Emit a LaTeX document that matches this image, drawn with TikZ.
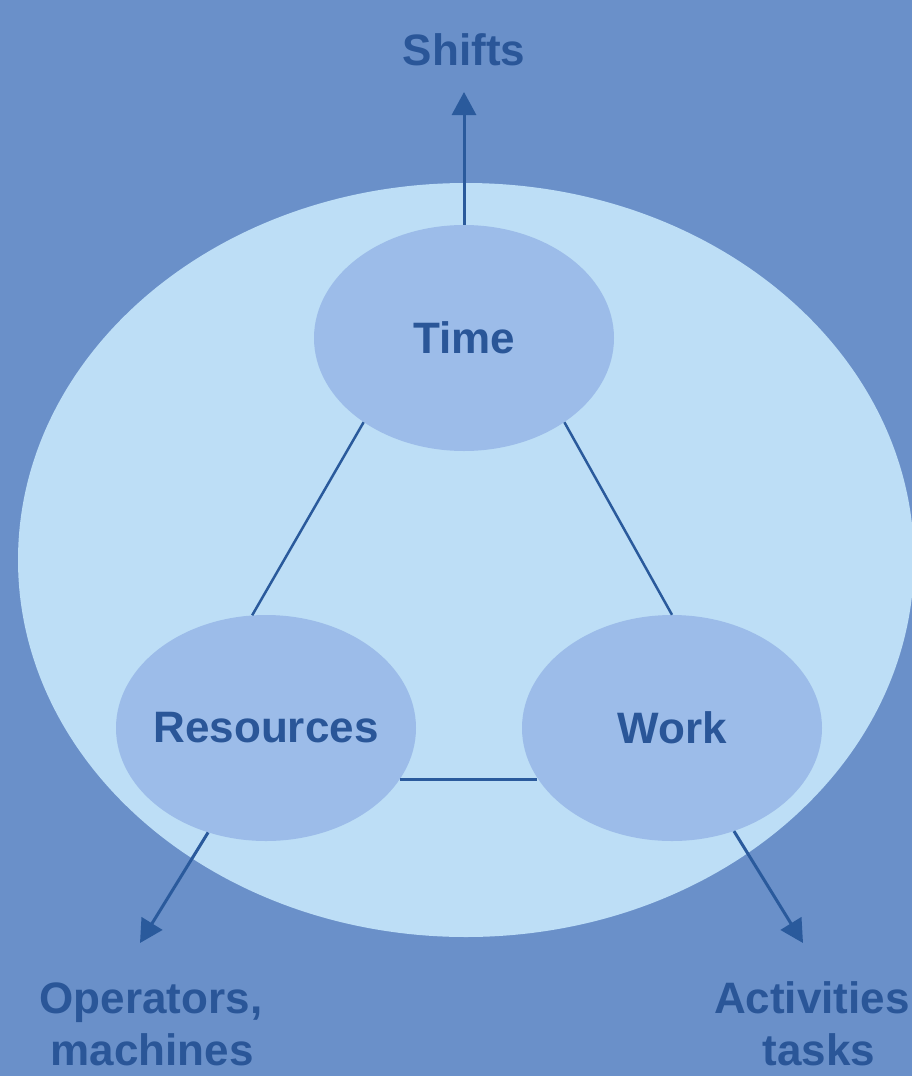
\documentclass[tikz,border=0pt]{standalone}
\usepackage{fontspec}
\setmainfont{Liberation Sans}
\usetikzlibrary{shapes.geometric,arrows.meta}
\definecolor{bgblue}{HTML}{6A90C9}
\definecolor{fieldblue}{HTML}{BDDEF6}
\definecolor{nodeblue}{HTML}{9CBCE9}
\definecolor{textblue}{HTML}{2A5698}
\definecolor{lineblue}{HTML}{2A5A9C}
\tikzset{
  lbl/.style={font=\fontsize{44}{52}\selectfont\bfseries, text=textblue, inner sep=0pt},
  oval/.style={ellipse, fill=nodeblue, minimum width=300pt, minimum height=226pt, inner sep=0pt, lbl},
  link/.style={draw=lineblue, line width=2.5pt},
  outarrow/.style={draw=lineblue, line width=3pt, -{Triangle[length=23pt,width=24pt]}}
}
\begin{document}
\begin{tikzpicture}[x=1pt,y=-1pt]
\useasboundingbox (0,0) rectangle (912,1076);
\fill[bgblue] (0,0) rectangle (912,1076);
\node[ellipse, fill=fieldblue, minimum width=896pt, minimum height=754pt, inner sep=0pt] (field) at (466,560) {};
\node[oval] (T) at (464,338) {\makebox[0pt]{Time}};
\node[oval] (R) at (266,728) {\makebox[0pt]{Resources}};
\node[oval] (W) at (672,728) {\makebox[0pt]{Work}};
\draw[link] (T.220) -- (R.97);
\draw[link] (T.320) -- (W.90);
\draw[link] (R.339.5) -- (R.339.5 -| W.200.5);
\coordinate (ts) at (464,92);
\coordinate (tr) at (140,943);
\coordinate (tw) at (803,943);
\draw[outarrow] (T.90) -- (ts);
\draw[outarrow] (R.241.5) -- (tr);
\draw[outarrow] (W.301) -- (tw);
\node[lbl, anchor=base] (shifts) at (464,65) {Shifts};
\node[lbl, anchor=base] (ops1) at (151,1013) {Operators,};
\node[lbl, anchor=base] (ops2) at (152,1065) {machines};
\node[lbl, anchor=base] (act1) at (818,1013) {Activities,};
\node[lbl, anchor=base] (act2) at (819,1065) {tasks};
\end{tikzpicture}
\end{document}
